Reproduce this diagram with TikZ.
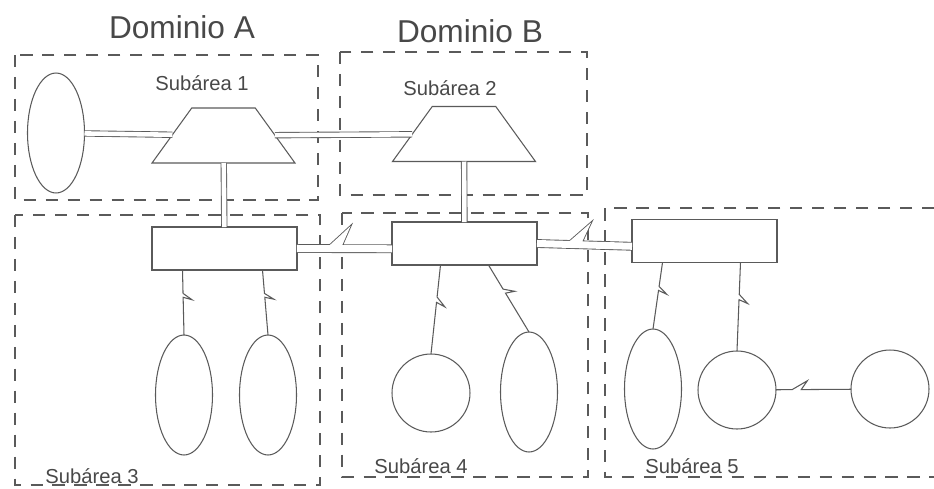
\documentclass[tikz,border=0pt]{standalone}
\usepackage{fontspec}
\setmainfont{Liberation Sans}
\usetikzlibrary{shapes.geometric,calc}
\definecolor{ink}{HTML}{5A5A5A}
\definecolor{txt}{HTML}{484848}
\begin{document}
\begin{tikzpicture}[x=0.02cm,y=-0.02cm]
\tikzstyle{zone}=[draw=ink, line width=0.6pt, dash pattern=on 7pt off 5.5pt]
\tikzstyle{domtitle}=[text=txt, font=\fontsize{18}{20}\selectfont]
\tikzstyle{subtitle}=[text=txt, font=\fontsize{11.5}{13}\selectfont]
\tikzstyle{host}=[draw=ink, line width=0.6pt, trapezium, trapezium left angle=58, trapezium right angle=58, trapezium stretches=true, minimum width=2.86cm, minimum height=1.1cm, inner sep=1pt, outer sep=0pt]
\tikzstyle{ctrl}=[draw=ink, line width=0.6pt, rectangle, minimum width=2.9cm, minimum height=0.86cm, inner sep=0pt, outer sep=0pt]
\tikzstyle{term}=[draw=ink, line width=0.6pt, ellipse, minimum width=1.14cm, minimum height=2.4cm, inner sep=0pt, outer sep=0pt]
\tikzstyle{disk}=[draw=ink, line width=0.6pt, circle, minimum size=1.56cm, inner sep=0pt, outer sep=0pt]
\tikzstyle{link}=[draw=ink, line width=0.5pt, double=white, double distance=2.6pt]
\tikzstyle{wide}=[draw=ink, line width=0.5pt, double=white, double distance=4pt]
\tikzstyle{wire}=[draw=ink, line width=0.6pt]
\tikzstyle{bolt}=[to path={-- ($(\tikztostart)!0.36!(\tikztotarget)$) -- ($(\tikztostart)!0.46!(\tikztotarget)!5pt!90:(\tikztotarget)$) -- ($(\tikztostart)!0.42!(\tikztotarget)$) -- (\tikztotarget)}]

\useasboundingbox (0,0) rectangle (934,488);

% Define areas
\draw[zone] (15,55) rectangle (318,200);
\draw[zone] (340,52) rectangle (587,195);
\draw[zone] (15,215) rectangle (320,485);
\draw[zone] (342,213) rectangle (588,477);
\draw[zone] (934,208) -- (605,208) -- (605,477) -- (934,477);

% Titles
\node[domtitle] (doma) at (182,27) {Dominio A};
\node[domtitle] (domb) at (470,31) {Dominio B};
\node[subtitle] (sub1) at (202,83) {Subárea 1};
\node[subtitle] (sub2) at (450,88) {Subárea 2};
\node[subtitle] (sub3) at (92,476) {Subárea 3};
\node[subtitle] (sub4) at (421,466) {Subárea 4};
\node[subtitle] (sub5) at (692,466) {Subárea 5};

% Define hosts and controllers
\node[term] (e1) at (56,133) {};
\node[host] (t1) at (223.5,135.5) {};
\node[host] (t2) at (464,134) {};
\node[ctrl] (r1) at (224.5,248.5) {};
\node[ctrl] (r2) at (464.5,243.5) {};
\node[ctrl] (r3) at (704.5,241) {};

% Terminals
\node[term] (e3a) at (184,395) {};
\node[term] (e3b) at (268,395) {};
\node[disk] (c4a) at (431,393) {};
\node[term] (e4b) at (529,392) {};
\node[term] (e5a) at (653,389) {};
\node[disk] (c5b) at (737,390) {};
\node[disk] (c5c) at (890,389) {};

% Channels
\draw[link] (e1) -- (t1);
\draw[link] (t1) -- (t2);
\draw[link] (t1) -- (r1);
\draw[link] (t2) -- (r2);
\draw[wide, bolt] (r1.east) to ([yshift=-3pt]r2.west);
\draw[wide, bolt] (r2.east) to ([yshift=-3pt]r3.west);

% Lines to terminals
\draw[wire, bolt] ($(r1.south)+(-42,0)$) to (e3a.north);
\draw[wire, bolt] ($(r1.south)+(38,0)$) to (e3b.north);
\draw[wire, bolt] ($(r2.south)+(-24,0)$) to (c4a.north);
\draw[wire, bolt] ($(r2.south)+(24,0)$) to (e4b.north);
\draw[wire, bolt] ($(r3.south)+(-42,0)$) to (e5a.north);
\draw[wire, bolt] ($(r3.south)+(36,0)$) to (c5b.north);
\draw[wire, bolt] (c5b) to (c5c);
\end{tikzpicture}
\end{document}
